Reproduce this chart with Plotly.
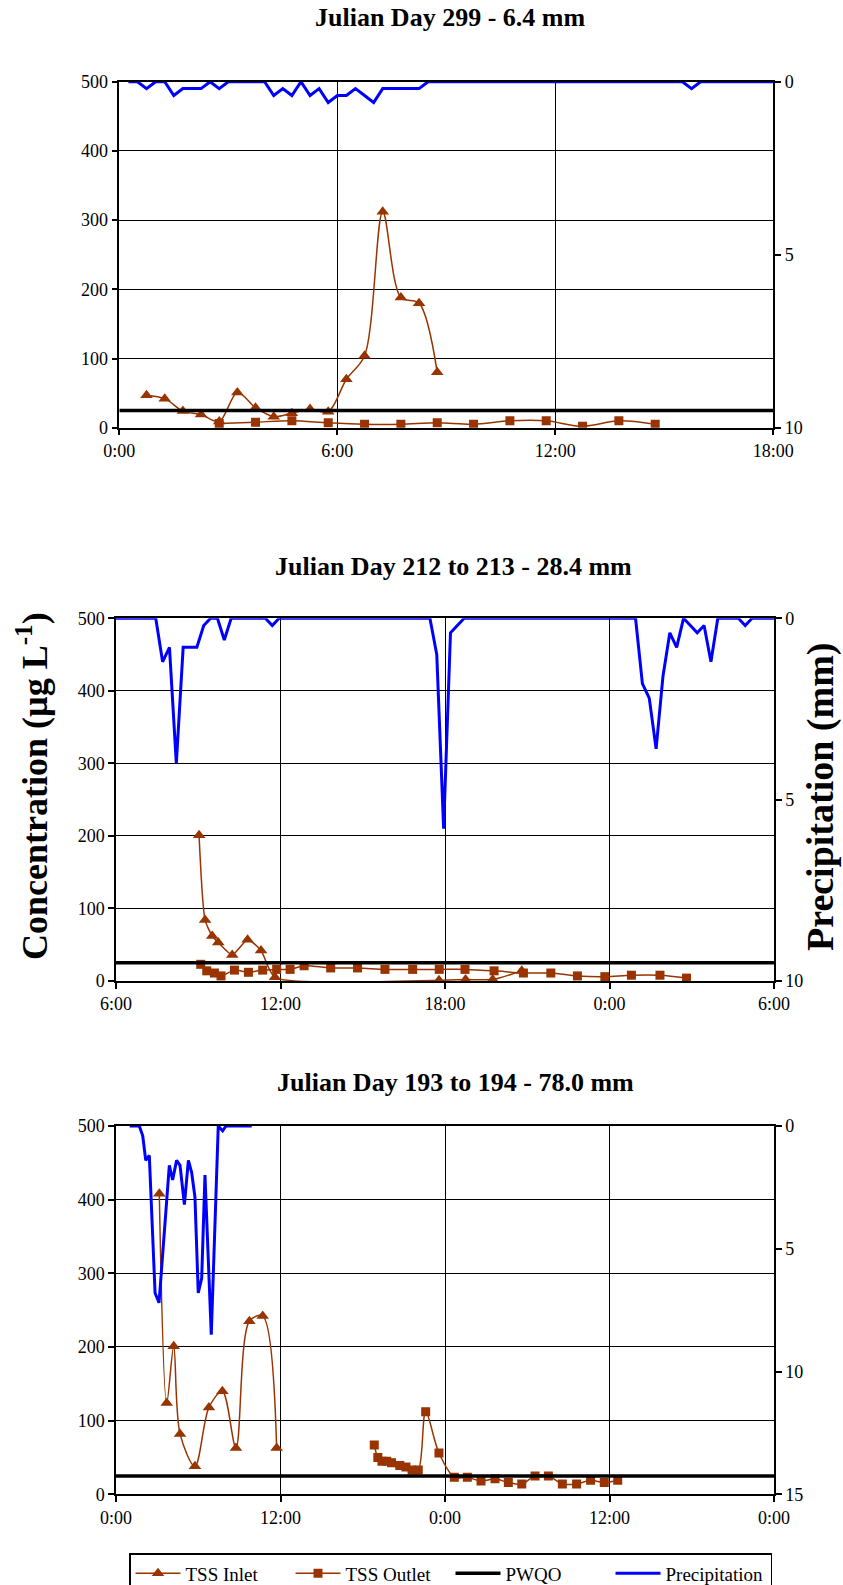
import plotly.graph_objects as go

# ---------------- data ----------------
PWQO = 25

# Panel 1: Julian Day 299 (hours from 0:00)
inlet1_t = [0.75, 1.25, 1.75, 2.25, 2.75, 3.25, 3.75, 4.25, 4.75, 5.25, 5.75, 6.25, 6.75, 7.25, 7.75, 8.25, 8.75]
inlet1_v = [47, 42, 24, 19, 9, 51, 29, 16, 21, 27, 23, 70, 104, 312, 188, 180, 80]
outlet1_t = [2.75, 3.75, 4.75, 5.75, 6.75, 7.75, 8.75, 9.75, 10.75, 11.75, 12.75, 13.75, 14.75]
outlet1_v = [6, 8, 10, 7, 5, 5, 7, 5, 10, 10, 2, 10, 5]
precip1_t = [0.25, 0.5, 0.75, 1.0, 1.25, 1.5, 1.75, 2.0, 2.25, 2.5, 2.75, 3.0, 4.0, 4.25, 4.5, 4.75,
             5.0, 5.25, 5.5, 5.75, 6.0, 6.25, 6.5, 6.75, 7.0, 7.25, 7.5, 7.75, 8.0, 8.25, 8.5,
             15.5, 15.75, 16.0, 18.0]
precip1_v = [0, 0, 0.2, 0, 0, 0.4, 0.2, 0.2, 0.2, 0, 0.2, 0, 0, 0.4, 0.2, 0.4,
             0, 0.4, 0.2, 0.6, 0.4, 0.4, 0.2, 0.4, 0.6, 0.2, 0.2, 0.2, 0.2, 0.2, 0,
             0, 0.2, 0, 0]

# Panel 2: Julian Day 212 to 213 (hours from 0:00 of day 212)
inlet2_t = [9.03, 9.25, 9.51, 9.73, 10.24, 10.8, 11.29, 11.8, 17.78, 18.75, 19.74, 20.8]
inlet2_v = [201, 84, 62, 53, 36, 57, 42, 5, 1, 2, 2, 14]
outlet2_t = [9.09, 9.31, 9.59, 9.83, 10.32, 10.83, 11.35, 11.86, 12.35, 12.86, 13.83, 14.81,
             15.81, 16.82, 17.79, 18.73, 19.79, 20.86, 21.86, 22.83, 23.83, 24.8, 25.84, 26.81]
outlet2_v = [23, 14, 11, 7, 15, 12, 15, 16, 16, 21, 18, 18, 16, 16, 16, 16, 14, 11, 11, 7, 6, 8, 8, 4]
precip2_t = [6.0, 7.45, 7.7, 7.95, 8.2, 8.45, 8.7, 8.95, 9.2, 9.45, 9.7, 9.95, 10.2, 11.45, 11.7, 11.95,
             17.45, 17.7, 17.95, 18.2, 18.45, 18.7, 24.95, 25.2, 25.45, 25.7, 25.95, 26.2, 26.45,
             26.7, 26.95, 27.2, 27.45, 27.7, 27.95, 28.7, 28.95, 29.2, 30.0]
precip2_v = [0, 0, 1.2, 0.8, 4.0, 0.8, 0.8, 0.8, 0.2, 0, 0, 0.6, 0, 0, 0.2, 0,
             0, 1.0, 5.8, 0.4, 0.2, 0, 0, 1.8, 2.2, 3.6, 1.6, 0.4, 0.8,
             0, 0.2, 0.4, 0.2, 1.2, 0, 0, 0.2, 0, 0]

# Panel 3: Julian Day 193 to 194 (hours from 0:00 of day 193)
inlet3_t = [3.16, 3.70, 4.21, 4.67, 5.76, 6.78, 7.76, 8.75, 9.73, 10.7, 11.72]
inlet3_v = [408, 124, 201, 82, 38, 118, 140, 63, 235, 242, 63]
outlet3_t = [18.84, 19.1, 19.4, 19.75, 20.1, 20.7, 21.15, 21.6, 22.05, 22.59, 23.56, 24.68,
             25.63, 26.63, 27.65, 28.62, 29.6, 30.57, 31.54, 32.56, 33.6, 34.62, 35.62, 36.6]
outlet3_v = [67, 50, 45, 45, 43, 39, 37, 33, 33, 112, 56, 23, 23, 18, 21, 16, 14, 25, 25, 14, 14, 19, 16, 19]
precip3_t = [1.0, 1.7, 1.95, 2.17, 2.43, 2.85, 3.14, 3.89, 4.13, 4.42, 4.67, 4.99, 5.28, 5.52,
             5.76, 6.0, 6.25, 6.49, 6.95, 7.46, 7.78, 8.02, 9.9]
precip3_v = [0, 0, 0.4, 1.4, 1.2, 6.8, 7.2, 1.6, 2.2, 1.4, 1.6, 3.2, 1.4, 1.9,
             2.9, 6.8, 6.2, 2.0, 8.5, 0, 0.2, 0, 0]

titles = ["Julian Day 299 - 6.4 mm", "Julian Day 212 to 213 - 28.4 mm", "Julian Day 193 to 194 - 78.0 mm"]
x_ranges = [[0, 18], [6, 30], [0, 48]]
x_tickvals = [[0, 6, 12, 18], [6, 12, 18, 24, 30], [0, 12, 24, 36, 48]]
x_ticktext = [["0:00", "6:00", "12:00", "18:00"],
              ["6:00", "12:00", "18:00", "0:00", "6:00"],
              ["0:00", "12:00", "0:00", "12:00", "0:00"]]
p_max = [10, 10, 15]
p_ticks = [[0, 5, 10], [0, 5, 10], [0, 5, 10, 15]]
conc_ticks = [0, 100, 200, 300, 400, 500]

# ---------------- layout geometry (pixels) ----------------
W, H = 843, 1585
boxes = [(119.3, 773.3, 81.7, 427.7), (116, 774, 618.3, 981), (116, 774, 1126, 1494.3)]
title_pos = [(450, 18), (453, 566), (455, 1082)]
smooth = [0.9, 0.6, 0.9]

FONT = "Liberation Serif"
BROWN = "#993300"
BLUE = "#0000FF"

fig = go.Figure()

panels = [
    (inlet1_t, inlet1_v, outlet1_t, outlet1_v, precip1_t, precip1_v),
    (inlet2_t, inlet2_v, outlet2_t, outlet2_v, precip2_t, precip2_v),
    (inlet3_t, inlet3_v, outlet3_t, outlet3_v, precip3_t, precip3_v),
]

layout = {}
for i, (it, iv, ot, ov, pt, pv) in enumerate(panels):
    xa = "x" if i == 0 else f"x{i+1}"
    ya = "y" if i == 0 else f"y{2*i+1}"
    yb = f"y{2*i+2}"
    show = (i == 2)
    fig.add_trace(go.Scatter(x=it, y=iv, xaxis=xa, yaxis=ya, name="TSS Inlet", mode="lines+markers",
                             line=dict(color=BROWN, width=1.5, shape="spline", smoothing=smooth[i]),
                             marker=dict(symbol="triangle-up", size=11, color=BROWN),
                             showlegend=show, legendrank=1))
    fig.add_trace(go.Scatter(x=ot, y=ov, xaxis=xa, yaxis=ya, name="TSS Outlet", mode="lines+markers",
                             line=dict(color=BROWN, width=1.5, shape="spline", smoothing=0.9),
                             marker=dict(symbol="square", size=9, color=BROWN),
                             showlegend=show, legendrank=2))
    fig.add_trace(go.Scatter(x=x_ranges[i], y=[PWQO, PWQO], xaxis=xa, yaxis=ya, name="PWQO", mode="lines",
                             line=dict(color="black", width=3.5),
                             showlegend=show, legendrank=3))
    fig.add_trace(go.Scatter(x=pt, y=pv, xaxis=xa, yaxis=yb, name="Precipitation", mode="lines",
                             line=dict(color=BLUE, width=3),
                             showlegend=show, legendrank=4))

    x0, x1, y0, y1 = boxes[i]
    xdom = [x0 / W, x1 / W]
    ydom = [1 - y1 / H, 1 - y0 / H]
    xkey = "xaxis" if i == 0 else f"xaxis{i+1}"
    ykey = "yaxis" if i == 0 else f"yaxis{2*i+1}"
    y2key = f"yaxis{2*i+2}"
    tf = dict(family=FONT, size=18, color="black")
    layout[xkey] = dict(domain=xdom, range=x_ranges[i], anchor=ya, tickvals=x_tickvals[i],
                        ticktext=x_ticktext[i], showgrid=True, gridcolor="black", gridwidth=1,
                        showline=True, linecolor="black", linewidth=1.5, mirror=True,
                        ticks="outside", ticklen=6, tickcolor="black", tickwidth=1.5,
                        zeroline=False, automargin=False, tickfont=tf)
    layout[ykey] = dict(domain=ydom, range=[0, 500], anchor=xa, tickvals=conc_ticks,
                        showgrid=True, gridcolor="black", gridwidth=1,
                        showline=True, linecolor="black", linewidth=1.5,
                        ticks="outside", ticklen=6, tickcolor="black", tickwidth=1.5,
                        zeroline=False, automargin=False, tickfont=tf)
    layout[y2key] = dict(overlaying=ya, anchor=xa, side="right", range=[p_max[i], 0],
                         tickvals=p_ticks[i], showgrid=False, zeroline=False,
                         showline=True, linecolor="black", linewidth=1.5,
                         ticks="outside", ticklen=6, tickcolor="black", tickwidth=1.5,
                         automargin=False, tickfont=tf)

annotations = []
for i, t in enumerate(titles):
    tx, ty = title_pos[i]
    annotations.append(dict(text=f"<b>{t}</b>", x=tx / W, y=1 - ty / H, xref="paper", yref="paper",
                            xanchor="center", yanchor="middle", showarrow=False,
                            font=dict(family=FONT, size=26, color="black")))
annotations.append(dict(text="<b>Concentration (µg L<sup>-1</sup>)</b>", x=32 / W, y=1 - 786 / H,
                        xref="paper", yref="paper", xanchor="center", yanchor="middle",
                        textangle=-90, showarrow=False, font=dict(family=FONT, size=36, color="black")))
annotations.append(dict(text="<b>Precipitation (mm)</b>", x=821 / W, y=1 - 797 / H,
                        xref="paper", yref="paper", xanchor="center", yanchor="middle",
                        textangle=-90, showarrow=False, font=dict(family=FONT, size=38, color="black")))

fig.update_layout(
    width=W, height=H,
    margin=dict(l=0, r=0, t=0, b=0, autoexpand=False),
    paper_bgcolor="white", plot_bgcolor="white",
    font=dict(family=FONT, color="black", size=18),
    annotations=annotations,
    legend=dict(orientation="h", x=129 / W, xanchor="left", y=1 - 1553 / H, yanchor="top",
                bordercolor="black", borderwidth=1.5, bgcolor="white",
                itemwidth=45, entrywidth=100, entrywidthmode="pixels",
                font=dict(family=FONT, size=19, color="black"), traceorder="normal"),
    **layout,
)

fig.write_html("out.html")
